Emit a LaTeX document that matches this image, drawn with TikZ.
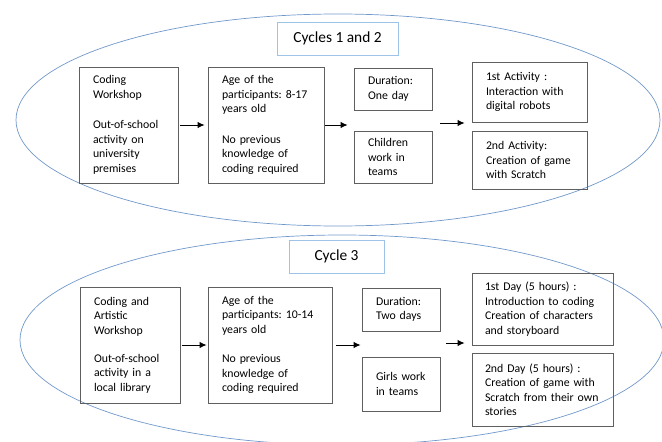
\documentclass[tikz,border=0pt]{standalone}
\usepackage{fontspec}
\setmainfont{Carlito}
\usepackage{xcolor}
\usepackage{tikz}
\usetikzlibrary{arrows, arrows.meta, positioning, calc}
\frenchspacing

\definecolor{ovalblue}{HTML}{7098CB}
\definecolor{titleblue}{HTML}{9DC3E6}
\definecolor{boxgray}{HTML}{5F5F5F}

\tikzset{
    infobox/.style={rectangle,draw=boxgray,line width=0.8pt,align=left,inner xsep=14pt,inner ysep=2pt,font=\fontsize{11.8}{14.5}\selectfont},
    cyclebox/.style={rectangle,draw=titleblue,line width=0.9pt,fill=white,minimum height=33pt,font=\fontsize{15.4}{18}\selectfont},
    cycleoval/.style={draw=ovalblue,line width=0.7pt},
    flow/.style={-{Latex[length=7pt,width=6.5pt]},line width=1pt,black}
}

\begin{document}
\begin{tikzpicture}[x=1pt,y=-1pt]
    \useasboundingbox (0,0) rectangle (662,442);
    \clip (0,0) rectangle (662,442);

    % Ovali dei cicli
    \draw[cycleoval] (338,120) ellipse [x radius=322pt, y radius=106pt];
    \draw[cycleoval] (342,340) ellipse [x radius=322pt, y radius=105pt];

    % Cicli 1 e 2
    \node[cyclebox,minimum width=121pt] (cyc12) at (337.5,38.5) {Cycles 1 and 2};
    \node[infobox,text width=71pt,minimum height=116pt] (coding1) at (128.5,125) {
        Coding\\
        Workshop\\[16pt]
        Out-of-school\\
        activity on\\
        university\\
        premises
    };
    \node[infobox,text width=88pt,minimum height=116pt] (age1) at (266,125) {
        Age of the\\
        participants: 8-17\\
        years old\\[16pt]
        No previous\\
        knowledge of\\
        coding required
    };
    \node[infobox,text width=50pt,minimum height=42pt] (dur1) at (393,89) {
        Duration:\\
        One day
    };
    \node[infobox,text width=50pt,minimum height=52pt] (team1) at (393,157) {
        Children\\
        work in\\
        teams
    };
    \node[infobox,text width=87pt,minimum height=60pt] (act1) at (529.5,92) {
        1st Activity :\\
        Interaction with\\
        digital robots
    };
    \node[infobox,text width=87pt,minimum height=58pt] (act2) at (529.5,160) {
        2nd Activity:\\
        Creation of game\\
        with Scratch
    };

    \draw[flow,shorten <=2pt,shorten >=3pt] (coding1.east) -- (age1.west);
    \draw[flow,shorten <=1pt,shorten >=6pt] (age1.east) -- (age1.east -| dur1.west);
    \coordinate (split1) at (440,123);
    \draw[flow,shorten >=7pt] (split1) -- (split1 -| act1.west);

    % Ciclo 3
    \node[cyclebox,minimum width=95pt] (cyc3) at (336.5,256.5) {Cycle 3};
    \node[infobox,text width=72pt,minimum height=116pt] (coding3) at (130,345) {
        Coding and\\
        Artistic\\
        Workshop\\[13.5pt]
        Out-of-school\\
        activity in a\\
        local library
    };
    \node[infobox,text width=96pt,minimum height=116pt] (age3) at (270,345) {
        Age of the\\
        participants: 10-14\\
        years old\\[15pt]
        No previous\\
        knowledge of\\
        coding required
    };
    \node[infobox,text width=50pt,minimum height=43pt] (dur3) at (401,309.5) {
        Duration:\\
        Two days
    };
    \node[infobox,text width=50pt,minimum height=54pt] (team3) at (401,384) {
        Girls work\\
        in teams
    };
    \node[infobox,inner xsep=13pt,text width=115pt,minimum height=72pt] (day1) at (542.5,309) {
        1st Day (5 hours) :\\
        Introduction to coding\\
        Creation of characters\\
        and storyboard
    };
    \node[infobox,inner xsep=13pt,text width=115pt,minimum height=73pt] (day2) at (542.5,389.5) {
        2nd Day (5 hours) :\\
        Creation of game with\\
        Scratch from their own\\
        stories
    };

    \draw[flow,shorten <=2pt,shorten >=1pt] (coding3.east) -- (age3.west);
    \draw[flow,shorten <=4pt,shorten >=1pt] (age3.east) -- (age3.east -| dur3.west);
    \coordinate (split3) at (446,343);
    \draw[flow,shorten >=7pt] (split3) -- (split3 -| day1.west);
\end{tikzpicture}
\end{document}
